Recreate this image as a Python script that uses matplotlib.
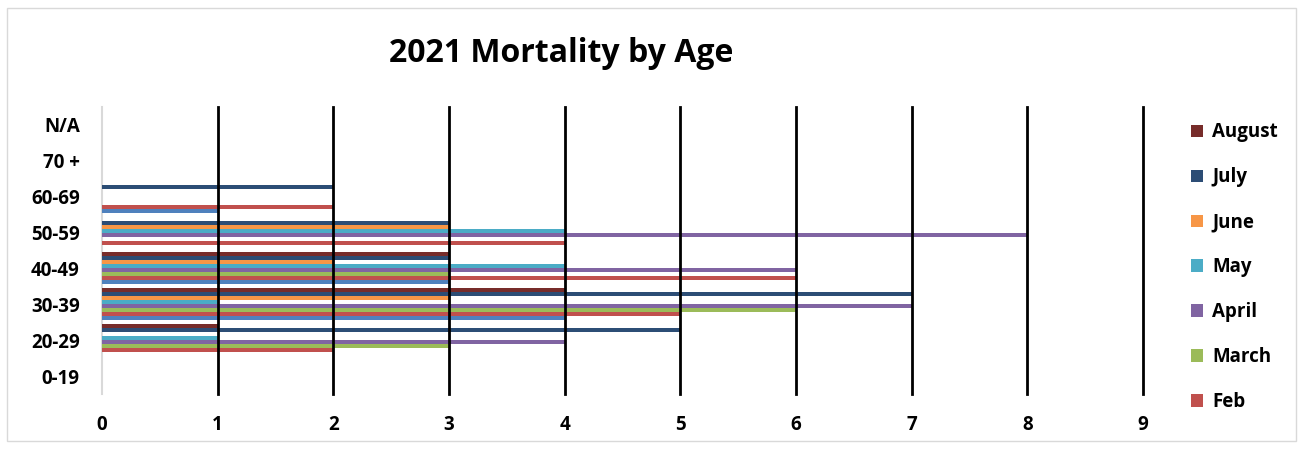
import matplotlib
matplotlib.use("Agg")
import matplotlib.pyplot as plt
from matplotlib.patches import Rectangle, Patch
import numpy as np

categories = ["0-19", "20-29", "30-39", "40-49", "50-59", "60-69", "70 +", "N/A"]
series_names = ["Jan", "Feb", "March", "April", "May", "June", "July", "August"]
jan    = [0, 0, 4, 3, 0, 1, 0, 0]
feb    = [0, 2, 5, 6, 4, 2, 0, 0]
march  = [0, 3, 6, 3, 0, 0, 0, 0]
april  = [0, 4, 7, 6, 8, 0, 0, 0]
may    = [0, 1, 1, 4, 4, 0, 0, 0]
june   = [0, 0, 3, 2, 3, 0, 0, 0]
july   = [0, 5, 7, 3, 3, 2, 0, 0]
august = [0, 1, 4, 3, 0, 0, 0, 0]
values = [jan, feb, march, april, may, june, july, august]
colors = ["#4F81BD", "#C0504D", "#9BBB59", "#8064A2", "#4BACC6", "#F79646", "#2C4D75", "#772C2A"]
xticks = list(range(0, 10))

plt.rcParams['font.family'] = ['Open Sans', 'DejaVu Sans']

fig = plt.figure(figsize=(13.06, 4.49), dpi=100)
ax = fig.add_axes([102/1306, 1-394/449, (1143-102)/1306, 287/449])

y = np.arange(len(categories))
h = 4/35.9
for i, (name, vals, c) in enumerate(zip(series_names, values, colors)):
    ax.barh(y + (i - 3.5) * h, vals, height=h, color=c, label=name, zorder=3)

ax.set_xlim(0, 9)
ax.set_ylim(-0.5, len(categories) - 0.5)
ax.set_xticks(xticks)
ax.set_xticklabels([str(t) for t in xticks], fontsize=13.5, fontweight='bold')
ax.set_yticks(y)
ax.set_yticklabels(categories, fontsize=13.5, fontweight='bold')
ax.tick_params(axis='both', length=0)
ax.tick_params(axis='y', pad=16)
ax.tick_params(axis='x', pad=15)
for t in xticks[1:]:
    ax.axvline(t, color='black', lw=2, zorder=4, clip_on=False)
for s in ['top', 'right', 'bottom']:
    ax.spines[s].set_visible(False)
ax.spines['left'].set_color('#D9D9D9')
ax.spines['left'].set_linewidth(1.5)

fig.text(561/1306, 1-53/449, "2021 Mortality by Age", fontsize=23, fontweight='bold',
         ha='center', va='center')

handles = [Patch(facecolor=colors[i], edgecolor='none') for i in range(7, 0, -1)]
labels = [series_names[i] for i in range(7, 0, -1)]
leg = fig.legend(handles, labels, loc='upper left', bbox_to_anchor=(1183/1306, 1-115/449),
                 frameon=False, prop={'weight': 'bold', 'size': 13.5},
                 handlelength=0.65, handleheight=0.65, handletextpad=0.5,
                 labelspacing=1.33, borderaxespad=0)

fig.patches.append(Rectangle((7/1306, 1-441/449), 1289/1306, 433/449, transform=fig.transFigure,
                             fill=False, edgecolor='#D9D9D9', lw=1))

fig.savefig("out.png", dpi=100)
